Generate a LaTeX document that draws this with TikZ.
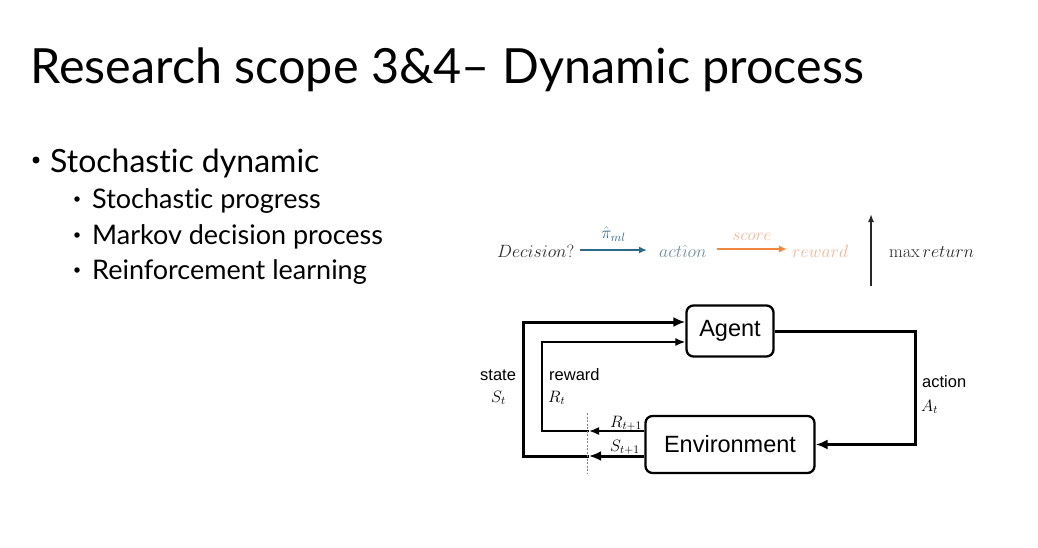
\documentclass[tikz,border=0pt]{standalone}
\usepackage{fix-cm}
\usepackage[no-math]{fontspec}
\setmainfont{Liberation Sans}
\newfontfamily\slidefont[Ligatures={NoCommon,NoContextual}]{Lato}
\usetikzlibrary{arrows.meta}
\definecolor{piblue}{RGB}{46,104,135}
\definecolor{actgray}{RGB}{112,140,160}
\definecolor{scoreorange}{RGB}{240,135,60}
\definecolor{softorange}{RGB}{245,182,150}
\definecolor{inkgray}{RGB}{40,40,40}
\begin{document}
\begin{tikzpicture}[x=1pt,y=-1pt,
  titletext/.style={anchor=base west,inner sep=0,font=\slidefont\fontsize{48.5}{56}\selectfont},
  toptext/.style={anchor=base west,inner sep=0,font=\slidefont\fontsize{32}{38}\selectfont},
  subtext/.style={anchor=base west,inner sep=0,font=\slidefont\fontsize{27}{30}\selectfont},
  dot/.style={circle,fill=black,inner sep=0},
  mathrow/.style={anchor=base west,inner sep=0,font=\fontsize{17.8}{20}\selectfont},
  block/.style={draw,line width=2.3pt,rounded corners=7pt,inner sep=0,font=\fontsize{23.5}{28}\selectfont},
  lab/.style={anchor=base west,inner sep=0,font=\fontsize{16.5}{19}\selectfont},
  heavy/.style={line width=3.0pt},
  light/.style={line width=1.6pt},
  heavytip/.style={-{Latex[length=12pt,width=10pt]}},
  lighttip/.style={-{Latex[length=10pt,width=8pt]}}]
\useasboundingbox[fill=white] (0,0) rectangle (1038,547);

% title and bullet list
\node[titletext] (title) at (30,83) {Research scope 3\&4– Dynamic process};
\node[dot,minimum size=7pt] (b1) at (36,160) {};
\node[toptext] (t1) at (50,172) {Stochastic dynamic};
\node[dot,minimum size=5.5pt] (b2) at (77,199) {};
\node[subtext] (t2) at (92,208) {Stochastic progress};
\node[dot,minimum size=5.5pt] (b3) at (77,235) {};
\node[subtext] (t3) at (92,244) {Markov decision process};
\node[dot,minimum size=5.5pt] (b4) at (77,270) {};
\node[subtext] (t4) at (92,279) {Reinforcement learning};

% decision -> action -> reward row
\node[mathrow,text=inkgray] (dec) at (497,257) {$Decision?$};
\node[mathrow,text=actgray] (act) at (659,257) {$act\hat{\imath}on$};
\node[mathrow,text=softorange] (rew) at (792,257) {$reward$};
\node[mathrow,text=inkgray] (ret) at (889,257) {$\max return$};
\coordinate (a1s) at (580,250);
\coordinate (a1e) at (647,250);
\coordinate (a2s) at (717,249);
\coordinate (a2e) at (787,249);
\draw[line width=2.6pt,piblue,-{Latex[length=8pt,width=7pt]}] (a1s) -- (a1e)
  node[midway,above=4pt,text=piblue,font=\fontsize{17}{20}\selectfont] (pi) {$\hat{\pi}_{ml}$};
\draw[line width=2.6pt,scoreorange,-{Latex[length=8pt,width=7pt]}] (a2s) -- (a2e)
  node[midway,above=4pt,text=softorange,font=\fontsize{17}{20}\selectfont] (sc) {$score$};
\coordinate (upb) at (871,286);
\coordinate (upt) at (871,214);
\draw[line width=1.5pt,inkgray,-{Latex[length=8pt,width=6pt]}] (upb) -- (upt);

% agent-environment loop
\node[block,minimum width=87pt,minimum height=51pt] (agent) at (730,331) {Agent};
\node[block,minimum width=169pt,minimum height=57pt] (env) at (730,444.5) {Environment};

\coordinate (sx) at (523,456);
\coordinate (rx) at (542,431);
\coordinate (scut) at (589,456);
\coordinate (rcut) at (589,431);
\coordinate (ax) at (915,331);

% state feedback
\draw[heavy,heavytip] (env.west |- sx) -- (scut);
\draw[heavy,heavytip] (scut) -- (sx) |- ([yshift=9pt]agent.west);
% reward feedback
\draw[light,lighttip] (env.west |- rx) -- (rcut);
\draw[light,lighttip] (rcut) -- (rx) |- ([yshift=-11pt]agent.west);
% action
\draw[heavy,heavytip] (agent.east) -- (ax) |- (env.east);
% time step boundary
\coordinate (dtop) at (587,413);
\coordinate (dbot) at (587,474);
\draw[gray,line width=0.9pt,dash pattern=on 2pt off 1.5pt] (dtop) -- (dbot);

\node[lab] (lstate) at (480,380) {state};
\node[lab] (lS) at (491,402) {$S_t$};
\node[lab] (lrew) at (549,380) {reward};
\node[lab] (lR) at (548,402) {$R_t$};
\node[lab] (lR1) at (610,427) {$R_{t+1}$};
\node[lab] (lS1) at (610,451) {$S_{t+1}$};
\node[lab] (lact) at (922,387) {action};
\node[lab] (lA) at (921,411) {$A_t$};
\end{tikzpicture}
\end{document}
